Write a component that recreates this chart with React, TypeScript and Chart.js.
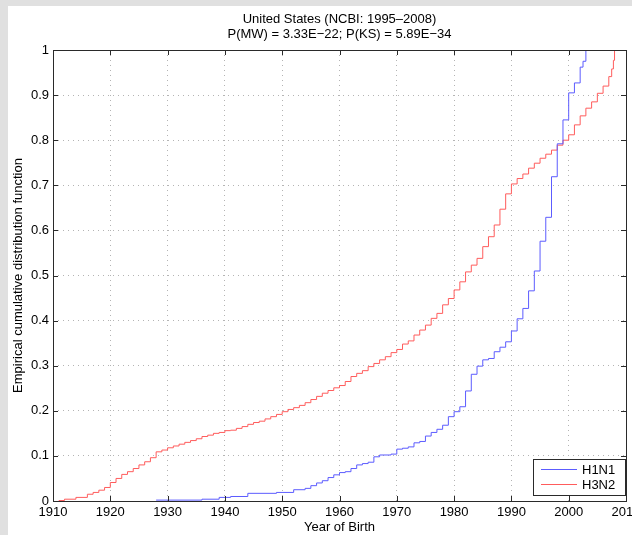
import React, { useEffect, useRef } from "react";
import { Chart, registerables } from "chart.js";

Chart.register(...registerables);

const titleLines = ["United States (NCBI: 1995\u20132008)", "P(MW) = 3.33E\u221222; P(KS) = 5.89E\u221234"];
const xAxisTitle = "Year of Birth";
const yAxisTitle = "Empirical cumulative distribution function";
const seriesNames = ["H1N1", "H3N2"];
const seriesColors = ["#5c5cff", "#ff5c5c"];

const xMin = 1910;
const xMax = 2010;
const xStep = 10;
const yMin = 0;
const yMax = 1;
const yStep = 0.1;

const h1n1Years = [
  1928, 1936, 1939, 1941, 1944, 1949, 1952, 1954, 1955, 1956, 1957, 1958, 1959, 1960, 1961,
  1962, 1963, 1964, 1965, 1966, 1967, 1969, 1970, 1971, 1972, 1973, 1974, 1975, 1976, 1977,
  1978, 1979, 1980, 1981, 1982, 1983, 1984, 1985, 1986, 1987, 1988, 1989, 1990, 1991, 1992,
  1993, 1994, 1995, 1996, 1997, 1998, 1999, 2000, 2001, 2002, 2002.5, 2003,
];
const h1n1Cdf = [
  0.002, 0.004, 0.008, 0.01, 0.017, 0.019, 0.025, 0.028, 0.034, 0.04, 0.045, 0.052, 0.058, 0.063, 0.065,
  0.072, 0.08, 0.083, 0.086, 0.098, 0.102, 0.104, 0.115, 0.117, 0.12, 0.129, 0.132, 0.144, 0.152, 0.159,
  0.168, 0.187, 0.198, 0.209, 0.244, 0.281, 0.299, 0.313, 0.316, 0.331, 0.341, 0.353, 0.377, 0.404, 0.427,
  0.466, 0.51, 0.576, 0.629, 0.719, 0.792, 0.845, 0.905, 0.927, 0.962, 0.975, 1.0,
];

const h3n2Years = [
  1911, 1912, 1914, 1916, 1917, 1918, 1919, 1920, 1921, 1922, 1923, 1924, 1925, 1926, 1927,
  1928, 1929, 1930, 1931, 1932, 1933, 1934, 1935, 1936, 1937, 1938, 1939, 1940, 1941, 1942,
  1943, 1944, 1945, 1946, 1947, 1948, 1949, 1950, 1951, 1952, 1953, 1954, 1955, 1956, 1957,
  1958, 1959, 1960, 1961, 1962, 1963, 1964, 1965, 1966, 1967, 1968, 1969, 1970, 1971, 1972,
  1973, 1974, 1975, 1976, 1977, 1978, 1979, 1980, 1981, 1982, 1983, 1984, 1985, 1986, 1987,
  1988, 1989, 1990, 1991, 1992, 1993, 1994, 1995, 1996, 1997, 1998, 1999, 2000, 2001, 2002,
  2003, 2004, 2005, 2006, 2007, 2007.5, 2007.8, 2008,
];
const h3n2Cdf = [
  0.001, 0.004, 0.008, 0.015, 0.019, 0.024, 0.03, 0.041, 0.05, 0.059, 0.065, 0.072, 0.08, 0.087, 0.096,
  0.109, 0.113, 0.118, 0.122, 0.126, 0.13, 0.134, 0.138, 0.143, 0.146, 0.15, 0.152, 0.156, 0.157, 0.161,
  0.165, 0.17, 0.174, 0.177, 0.182, 0.187, 0.192, 0.198, 0.203, 0.207, 0.212, 0.218, 0.225, 0.232, 0.239,
  0.245, 0.251, 0.256, 0.265, 0.276, 0.283, 0.289, 0.298, 0.305, 0.313, 0.32, 0.329, 0.336, 0.348, 0.355,
  0.368, 0.379, 0.39, 0.405, 0.416, 0.435, 0.449, 0.468, 0.486, 0.508, 0.523, 0.538, 0.564, 0.586, 0.612,
  0.647, 0.681, 0.703, 0.715, 0.725, 0.738, 0.749, 0.76, 0.769, 0.778, 0.789, 0.8, 0.812, 0.834, 0.854,
  0.871, 0.885, 0.904, 0.92, 0.941, 0.958, 0.977, 1.0,
];

const FONT = "'Liberation Sans', Arial, Helvetica, sans-serif";
const AXIS_COLOR = "#2a2a2a";

const framePlugin = {
  id: "matlabFrame",
  afterDraw(chart: any) {
    const { ctx, chartArea } = chart;
    const { left, right, top, bottom } = chartArea;
    ctx.save();
    // title
    ctx.fillStyle = "#000";
    ctx.font = `13px ${FONT}`;
    ctx.textAlign = "center";
    ctx.textBaseline = "middle";
    const cx = (left + right) / 2;
    ctx.fillText(titleLines[0], cx, 13);
    ctx.fillText(titleLines[1], cx, 28.5);

    // ticks inward
    ctx.strokeStyle = AXIS_COLOR;
    ctx.lineWidth = 1;
    const xs = chart.scales.x;
    const ys = chart.scales.y;
    const tl = 5;
    ctx.beginPath();
    xs.ticks.forEach((t: any) => {
      const px = Math.round(xs.getPixelForValue(t.value)) + 0.5;
      ctx.moveTo(px, bottom);
      ctx.lineTo(px, bottom - tl);
      ctx.moveTo(px, top);
      ctx.lineTo(px, top + tl);
    });
    ys.ticks.forEach((t: any) => {
      const py = Math.round(ys.getPixelForValue(t.value)) + 0.5;
      ctx.moveTo(left, py);
      ctx.lineTo(left + tl, py);
      ctx.moveTo(right, py);
      ctx.lineTo(right - tl, py);
    });
    ctx.stroke();
    // box
    ctx.strokeRect(Math.round(left) + 0.5, Math.round(top) + 0.5, Math.round(right - left), Math.round(bottom - top));

    // legend
    const lx = 525.5, ly = 453.5, lw = 92, lh = 36;
    ctx.fillStyle = "#fff";
    ctx.fillRect(lx, ly, lw, lh);
    ctx.strokeStyle = AXIS_COLOR;
    ctx.strokeRect(lx, ly, lw, lh);
    const rows = [463, 478];
    seriesNames.forEach((name, i) => {
      ctx.strokeStyle = seriesColors[i];
      ctx.beginPath();
      ctx.moveTo(533, rows[i] + 0.5);
      ctx.lineTo(569, rows[i] + 0.5);
      ctx.stroke();
      ctx.fillStyle = "#000";
      ctx.textAlign = "left";
      ctx.textBaseline = "middle";
      ctx.fillText(name, 574, rows[i] + 1);
    });
    ctx.restore();
  },
};

export default function App() {
  const ref = useRef<HTMLCanvasElement | null>(null);
  useEffect(() => {
    if (!ref.current) return;
    Chart.defaults.font.family = FONT;
    const chart = new Chart(ref.current, {
      type: "line",
      data: {
        datasets: [
          {
            label: seriesNames[0],
            data: h1n1Years.map((x, i) => ({ x, y: h1n1Cdf[i] })),
            borderColor: seriesColors[0],
            borderWidth: 1,
            pointRadius: 0,
            stepped: "before",
            fill: false,
          },
          {
            label: seriesNames[1],
            data: h3n2Years.map((x, i) => ({ x, y: h3n2Cdf[i] })),
            borderColor: seriesColors[1],
            borderWidth: 1,
            pointRadius: 0,
            stepped: "before",
            fill: false,
          },
        ],
      },
      options: {
        animation: false,
        responsive: false,
        devicePixelRatio: 1,
        layout: { padding: { left: 0, right: 6, top: 44, bottom: 0 } },
        plugins: {
          legend: { display: false },
          title: { display: false },
          tooltip: { enabled: false },
        },
        scales: {
          x: {
            type: "linear",
            min: xMin,
            max: xMax,
            ticks: {
              stepSize: xStep,
              color: "#000",
              font: { size: 13, family: FONT },
              padding: 4,
              maxRotation: 0,
              autoSkip: false,
              callback: (v: any) => String(v),
            },
            grid: { color: "#b4b4b4", drawTicks: false, lineWidth: 1 },
            border: { display: false, dash: [1, 4] },
            title: {
              display: true,
              text: xAxisTitle,
              color: "#000",
              font: { size: 13, family: FONT },
              padding: { top: 0, bottom: 0 },
            },
            afterFit: (s: any) => {
              s.height = 34;
              s.paddingLeft = 0;
              s.paddingRight = 0;
            },
          },
          y: {
            type: "linear",
            min: yMin,
            max: yMax,
            ticks: {
              stepSize: yStep,
              color: "#000",
              font: { size: 13, family: FONT },
              padding: 4,
              callback: (v: any) => String(Math.round(Number(v) * 10) / 10),
            },
            grid: { color: "#b4b4b4", drawTicks: false, lineWidth: 1 },
            border: { display: false, dash: [1, 4] },
            title: {
              display: true,
              text: yAxisTitle,
              color: "#000",
              font: { size: 13, family: FONT },
              padding: { top: 3, bottom: 0 },
            },
            afterFit: (s: any) => {
              s.width = 45;
              s.paddingTop = 0;
              s.paddingBottom = 0;
            },
          },
        },
      },
      plugins: [framePlugin],
    } as any);
    return () => chart.destroy();
  }, []);

  return (
    <div style={{ position: "fixed", left: 0, top: 0, right: 0, bottom: 0, background: "#e0e0e0", overflow: "hidden" }}>
      <div style={{ position: "absolute", left: 8, top: 6, width: 624, height: 529, background: "#fff" }}>
        <canvas ref={ref} width={624} height={529} style={{ display: "block", width: 624, height: 529 }} />
      </div>
    </div>
  );
}
